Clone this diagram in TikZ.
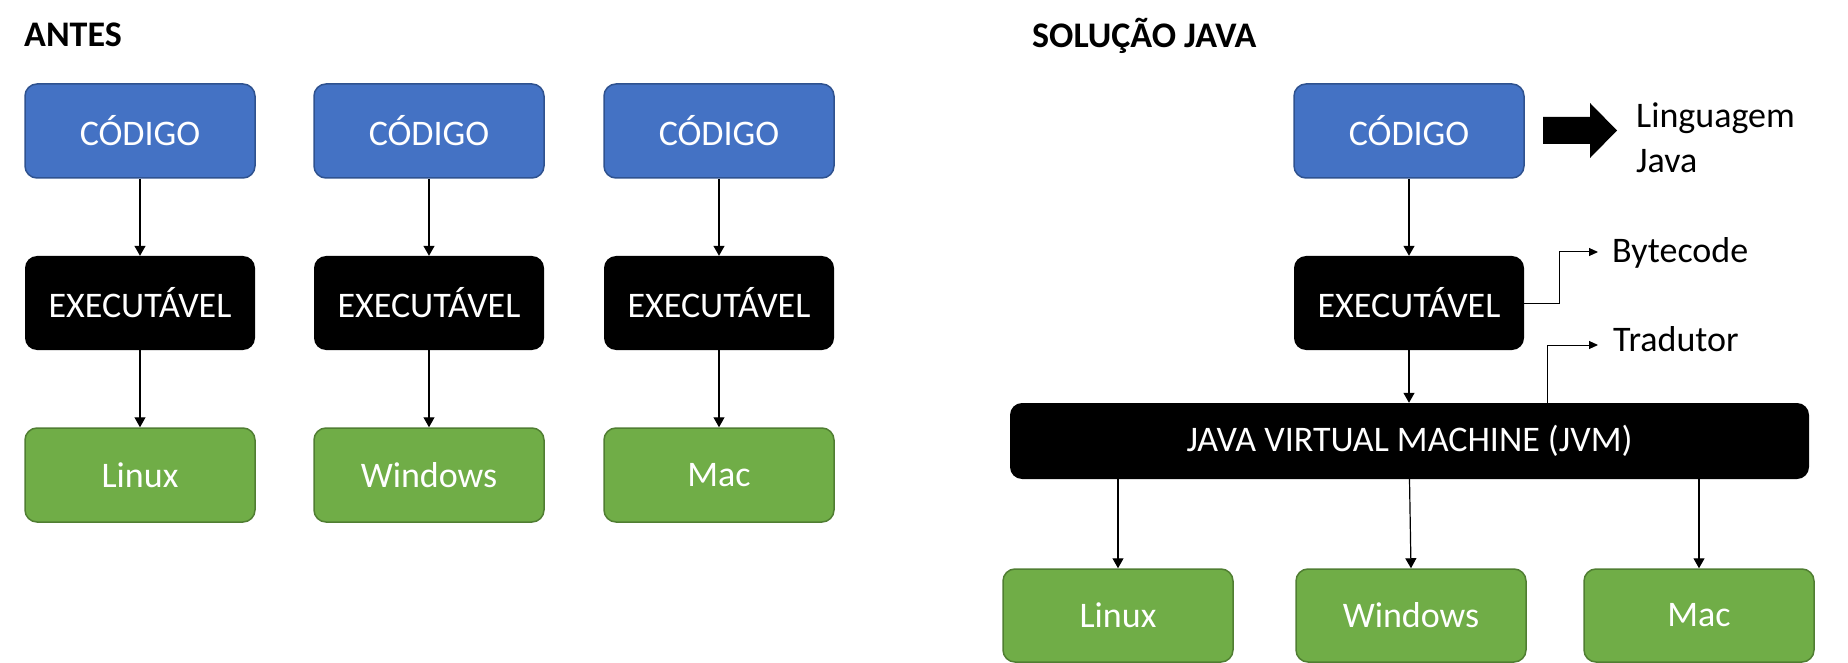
\documentclass[tikz,border=0pt]{standalone}
\usepackage{fontspec}
\setmainfont{Carlito}
\usepackage{tikz}
\usetikzlibrary{arrows.meta}
\definecolor{azul}{HTML}{4472C4}
\definecolor{azulb}{HTML}{2F528F}
\definecolor{verde}{HTML}{70AD47}
\definecolor{verdeb}{HTML}{507E32}

\begin{document}
\begin{tikzpicture}[x=1pt,y=-1pt,
  caixa/.style={rounded corners=12pt,minimum width=230pt,minimum height=94pt,inner sep=0pt,text=white,font=\fontsize{36}{43}\selectfont},
  codigo/.style={caixa,fill=azul,draw=azulb,line width=1.5pt},
  executavel/.style={caixa,fill=black},
  sistema/.style={caixa,fill=verde,draw=verdeb,line width=1.5pt},
  seta/.style={-{Triangle[length=10pt,width=11pt]},line width=1.2pt},
  setafina/.style={-{Triangle[length=9pt,width=8pt]},line width=1pt},
  rotulo/.style={inner sep=0pt,font=\fontsize{36}{45}\selectfont},
  titulo/.style={inner sep=0pt,font=\bfseries\fontsize{36}{43}\selectfont}]
\useasboundingbox (0,0) rectangle (1848,663);
%Antes
\node[titulo,anchor=base west] (antes) at (24,47) {ANTES};
\node[codigo] (cod1) at (140,131) {CÓDIGO};
\node[codigo] (cod2) at (429,131) {CÓDIGO};
\node[codigo] (cod3) at (719,131) {CÓDIGO};
\node[executavel] (exe1) at (140,303) {EXECUTÁVEL};
\node[executavel] (exe2) at (429,303) {EXECUTÁVEL};
\node[executavel] (exe3) at (719,303) {EXECUTÁVEL};
\node[sistema] (lin1) at (140,475) {Linux};
\node[sistema] (win1) at (429,475) {Windows};
\node[sistema] (mac1) at (719,475) {Mac};
\draw[seta] (cod1) -- (exe1);
\draw[seta] (cod2) -- (exe2);
\draw[seta] (cod3) -- (exe3);
\draw[seta] (exe1) -- (lin1);
\draw[seta] (exe2) -- (win1);
\draw[seta] (exe3) -- (mac1);
%Solução Java
\node[titulo,anchor=base west] (sol) at (1032,48) {SOLUÇÃO JAVA};
\node[codigo] (codj) at (1409,131) {CÓDIGO};
\node[executavel] (exej) at (1409,303) {EXECUTÁVEL};
\node[executavel,minimum width=799pt,minimum height=76pt] (jvm) at (1409.5,441) {JAVA VIRTUAL MACHINE (JVM)};
\node[sistema,minimum height=93pt] (linj) at (1118,615.5) {Linux};
\node[sistema,minimum height=93pt] (winj) at (1411,615.5) {Windows};
\node[sistema,minimum height=93pt] (macj) at (1699,615.5) {Mac};
\draw[seta] (codj) -- (exej);
\draw[seta] (exej.south) -- (exej.south|-jvm.north);
\draw[seta] (linj.north|-jvm.south) -- (linj.north);
\draw[seta] (jvm.south) -- (winj.north);
\draw[seta] (macj.north|-jvm.south) -- (macj.north);
%seta grande
\fill (1543,117) -- (1590,117) -- (1590,103) -- (1617,130.5) -- (1590,158) -- (1590,144) -- (1543,144) -- cycle;
%Text
\node[rotulo,align=left,anchor=west] (ling) at (1636,138) {Linguagem\\Java};
\node[rotulo,anchor=base west] (byte) at (1612,263) {Bytecode};
\node[rotulo,anchor=base west] (trad) at (1613,351) {Tradutor};
\coordinate (pbyte) at (1598,252);
\coordinate (ptrad) at (1598,345);
\draw[setafina] (exej.east) -- ++(35,0) |- (pbyte);
\draw[setafina] ([xshift=138pt]jvm.north) |- (ptrad);
\end{tikzpicture}
\end{document}
